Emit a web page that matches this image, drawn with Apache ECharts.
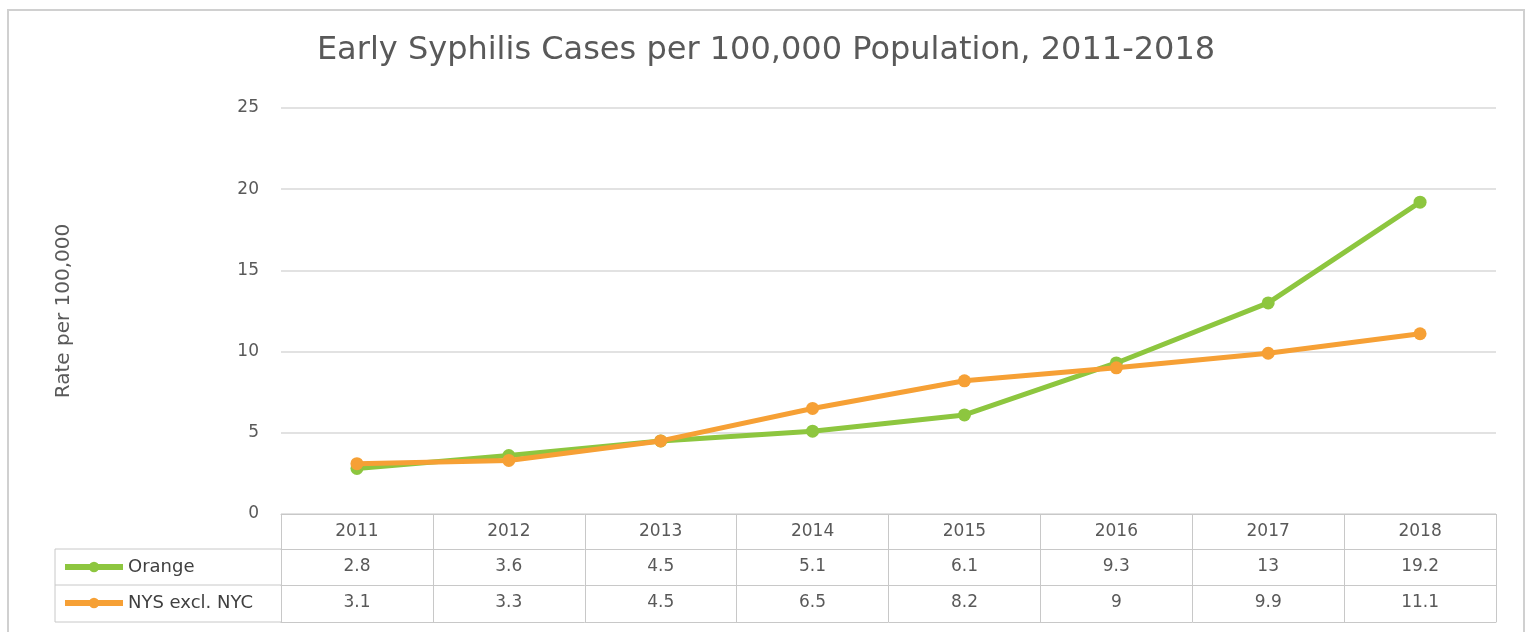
<!DOCTYPE html>
<html>
<head>
<meta charset="utf-8">
<script src="https://cdn.jsdelivr.net/npm/echarts@6/dist/echarts.min.js"></script>
<style>html,body{margin:0;padding:0;background:#fff;}#c{width:1532px;height:632px;}</style>
</head>
<body>
<div id="c"></div>
<script>
const years = ['2011','2012','2013','2014','2015','2016','2017','2018'];
const orange = [2.8, 3.6, 4.5, 5.1, 6.1, 9.3, 13, 19.2];
const nys = [3.1, 3.3, 4.5, 6.5, 8.2, 9, 9.9, 11.1];
const seriesNames = ['Orange', 'NYS excl. NYC'];
const yTicks = {min: 0, max: 25, interval: 5};

const GREEN = '#8dc63f';
const ORANGE = '#f6a035';
const TXT = '#595959';
const BORDER = '#c8c8c8';
const FONT = 'DejaVu Sans';

const GRID_LEFT = 281, GRID_RIGHT = 36, GRID_TOP = 108, GRID_BOTTOM = 118;
const ROW = [35, 36, 37]; // table row heights
const TABLE_LEFT = 55;

const chart = echarts.init(document.getElementById('c'));

function tableAxis(offset, labels) {
  return {
    type: 'category', data: years, gridIndex: 0, position: 'bottom', offset: offset,
    boundaryGap: true,
    axisLine: {show: true, lineStyle: {color: BORDER, width: 1}},
    axisTick: {show: false},
    axisLabel: labels ? {show: true, margin: 9, color: TXT, fontSize: 17, fontFamily: FONT, interval: 0,
      formatter: (v, i) => String(labels[i])} : {show: false},
    splitLine: {show: false}
  };
}

const h0 = ROW[0], h1 = ROW[0] + ROW[1], h2 = ROW[0] + ROW[1] + ROW[2];
const legendCommon = {left: 62, padding: 0, itemWidth: 58, itemHeight: 13,
  lineStyle: {width: 6}, textStyle: {color: '#404040', fontSize: 18, fontFamily: FONT}};

chart.setOption({
  animation: false,
  backgroundColor: '#fff',
  title: {
    text: 'Early Syphilis Cases per 100,000 Population, 2011-2018',
    left: 'center', top: 30,
    textStyle: {color: TXT, fontSize: 32, fontWeight: 'normal', fontFamily: FONT}
  },
  grid: {left: GRID_LEFT, right: GRID_RIGHT, top: GRID_TOP, bottom: GRID_BOTTOM},
  legend: [
    Object.assign({data: [seriesNames[0]], top: 558}, legendCommon),
    Object.assign({data: [seriesNames[1]], top: 594}, legendCommon)
  ],
  xAxis: [
    {
      type: 'category', data: years, position: 'bottom', boundaryGap: true,
      axisLine: {show: true, lineStyle: {color: BORDER, width: 1}},
      axisTick: {show: true, length: h2, interval: 0, lineStyle: {color: BORDER, width: 1}},
      axisLabel: {margin: 9, color: TXT, fontSize: 17, fontFamily: FONT, interval: 0},
      splitLine: {show: false}
    },
    tableAxis(h0, orange),
    tableAxis(h1, nys),
    tableAxis(h2, null)
  ],
  yAxis: {
    type: 'value', min: yTicks.min, max: yTicks.max, interval: yTicks.interval,
    name: 'Rate per 100,000', nameLocation: 'middle', nameRotate: 90, nameGap: 207,
    nameTextStyle: {color: TXT, fontSize: 20, fontFamily: FONT},
    axisLine: {show: false}, axisTick: {show: false},
    axisLabel: {color: TXT, fontSize: 17, fontFamily: FONT, margin: 22},
    splitLine: {show: true, lineStyle: {color: '#d9d9d9', width: 1.5}}
  },
  series: [
    {name: seriesNames[0], type: 'line', data: orange, xAxisIndex: 0, yAxisIndex: 0,
     symbol: 'circle', symbolSize: 13, lineStyle: {color: GREEN, width: 5},
     itemStyle: {color: GREEN}, z: 3},
    {name: seriesNames[1], type: 'line', data: nys, xAxisIndex: 0, yAxisIndex: 0,
     symbol: 'circle', symbolSize: 13, lineStyle: {color: ORANGE, width: 5},
     itemStyle: {color: ORANGE}, z: 4}
  ]
});

// Left (legend) cells of the data table, built from the axis geometry
const yZero = chart.convertToPixel({yAxisIndex: 0}, 0);
const gl = GRID_LEFT;
chart.setOption({
  graphic: [
    {type: 'rect', shape: {x: 8, y: 10, width: 1516, height: 640},
     style: {fill: 'none', stroke: '#d0d0d0', lineWidth: 2}, silent: true, z: -1},
    {type: 'polyline', shape: {points: [[gl, yZero + h0], [TABLE_LEFT, yZero + h0], [TABLE_LEFT, yZero + h2], [gl, yZero + h2]]},
     style: {fill: 'none', stroke: BORDER, lineWidth: 1}, silent: true},
    {type: 'line', shape: {x1: TABLE_LEFT, y1: yZero + h1, x2: gl, y2: yZero + h1},
     style: {stroke: BORDER, lineWidth: 1}, silent: true}
  ]
});
</script>
</body>
</html>
